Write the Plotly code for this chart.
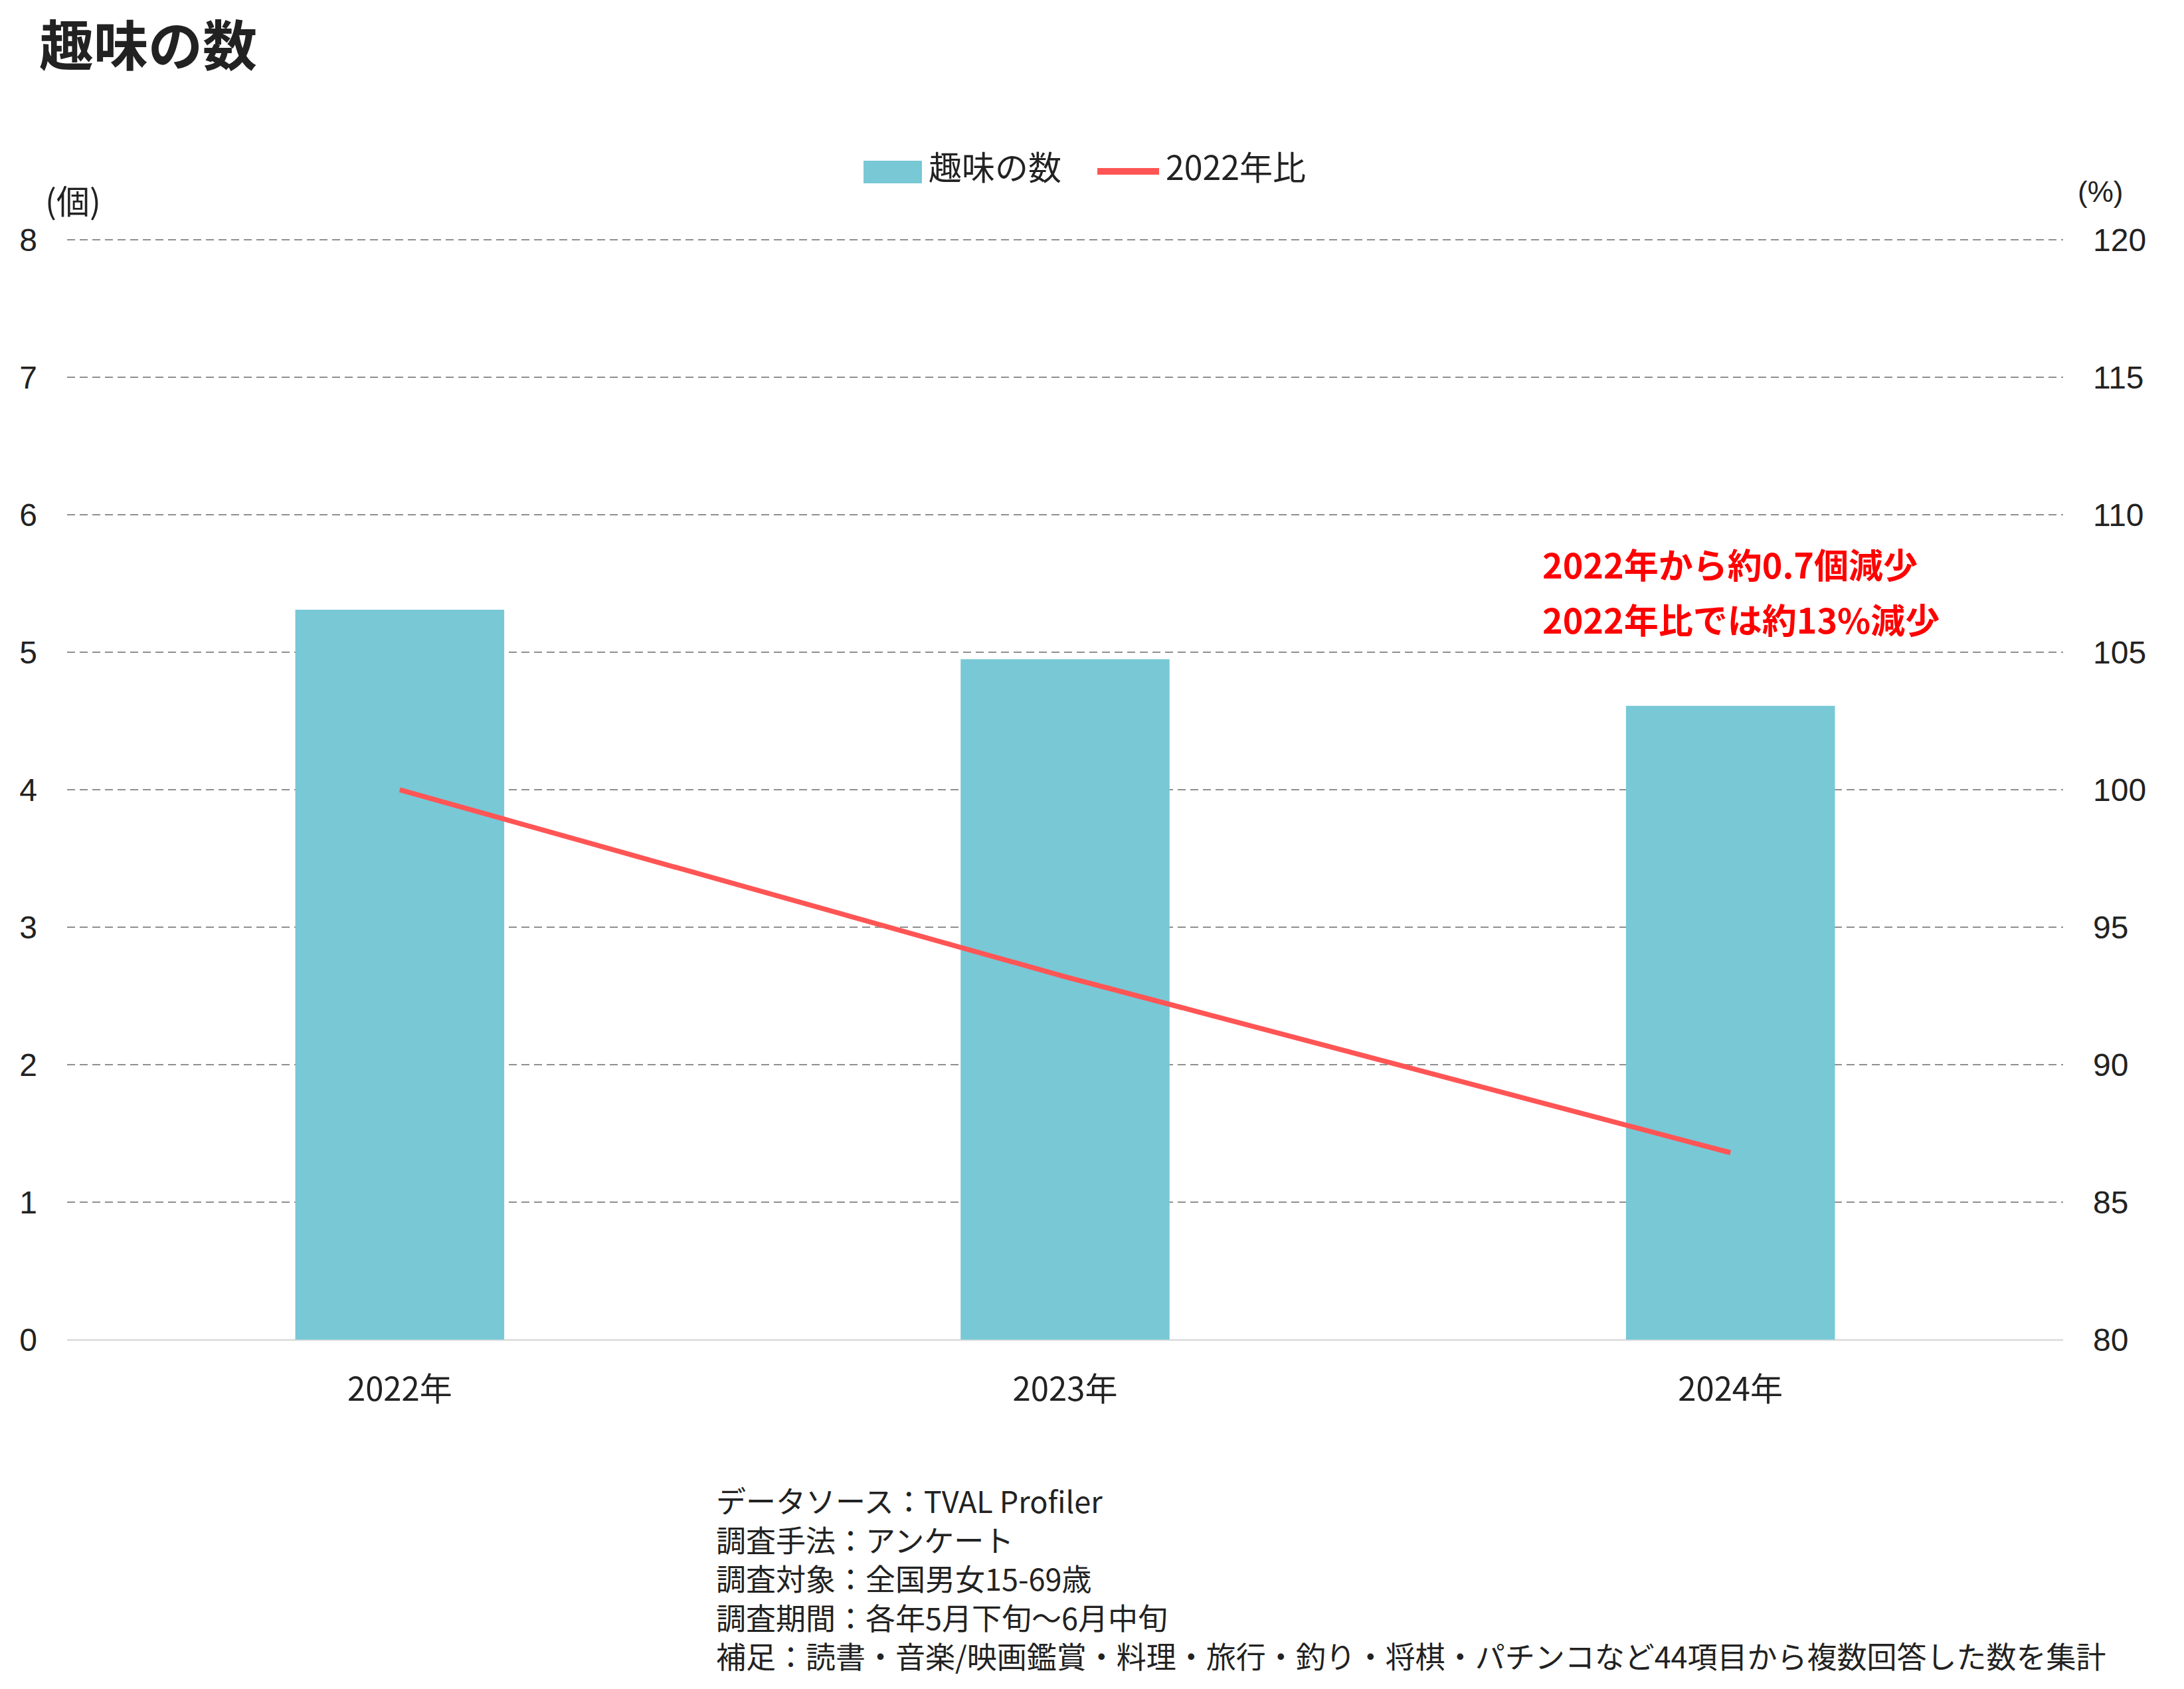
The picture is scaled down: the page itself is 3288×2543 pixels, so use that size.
import plotly.graph_objects as go

# ---- data ----
categories = ["2022年", "2023年", "2024年"]
hobby_counts = [5.31, 4.95, 4.61]          # 趣味の数 (個)
ratio_vs_2022 = [100.0, 93.2, 86.8]        # 2022年比 (%)
left_ticks = [0, 1, 2, 3, 4, 5, 6, 7, 8]
right_ticks = [80, 85, 90, 95, 100, 105, 110, 115, 120]
title_text = "趣味の数"
bar_name = "趣味の数"
line_name = "2022年比"
note_lines = ["2022年から約0.7個減少", "2022年比では約13%減少"]
footnote_lines = [
    "データソース：TVAL Profiler",
    "調査手法：アンケート",
    "調査対象：全国男女15-69歳",
    "調査期間：各年5月下旬～6月中旬",
    "補足：読書・音楽/映画鑑賞・料理・旅行・釣り・将棋・パチンコなど44項目から複数回答した数を集計",
]

BAR_COLOR = "#78C8D6"
LINE_COLOR = "#FF5555"

W, H = 3288, 2543
ML, MR, MT, MB = 101, 182, 357, 526
PW, PH = W - ML - MR, H - MT - MB

def px_x(x):
    return (x - ML) / PW

def px_y(y):
    return (H - MB - y) / PH

CJK = "Noto Sans CJK JP"
NUM = "Liberation Sans, Arial"
TXT = "#222222"

fig = go.Figure()
fig.add_trace(go.Bar(
    x=categories, y=hobby_counts, name=bar_name,
    marker=dict(color=BAR_COLOR, line=dict(width=0)),
    yaxis="y", showlegend=False,
))
fig.add_trace(go.Scatter(
    x=categories, y=ratio_vs_2022, name=line_name, mode="lines",
    line=dict(color=LINE_COLOR, width=7.5),
    yaxis="y2", showlegend=False,
))

annotations = []
shapes = []

# title
annotations.append(dict(text="<b>" + title_text + "</b>", x=px_x(57), y=px_y(64),
                        xref="paper", yref="paper", xanchor="left", yanchor="middle",
                        showarrow=False, font=dict(family=CJK, size=82, color=TXT)))

# legend (drawn to match the large swatches of the reference)
shapes.append(dict(type="rect", xref="paper", yref="paper",
                   x0=px_x(1300), x1=px_x(1388), y0=px_y(276), y1=px_y(242),
                   fillcolor=BAR_COLOR, line=dict(width=0)))
shapes.append(dict(type="line", xref="paper", yref="paper",
                   x0=px_x(1652), x1=px_x(1745), y0=px_y(258), y1=px_y(258),
                   line=dict(color=LINE_COLOR, width=10)))
annotations.append(dict(text=bar_name, x=px_x(1396), y=px_y(249), xref="paper", yref="paper",
                        xanchor="left", yanchor="middle", showarrow=False,
                        font=dict(family=CJK, size=50, color=TXT)))
annotations.append(dict(text=line_name, x=px_x(1753), y=px_y(249), xref="paper", yref="paper",
                        xanchor="left", yanchor="middle", showarrow=False,
                        font=dict(family=CJK, size=50, color=TXT)))

# unit labels
annotations.append(dict(text="(個)", x=px_x(110), y=px_y(300), xref="paper", yref="paper",
                        xanchor="center", yanchor="middle", showarrow=False,
                        font=dict(family=CJK, size=50, color=TXT)))
annotations.append(dict(text="(%)", x=px_x(3162), y=px_y(288), xref="paper", yref="paper",
                        xanchor="center", yanchor="middle", showarrow=False,
                        font=dict(family=NUM, size=44, color=TXT)))

# red note
for t, yc in zip(note_lines, [848, 931]):
    annotations.append(dict(text="<b>" + t + "</b>", x=px_x(2320), y=px_y(yc),
                            xref="paper", yref="paper", xanchor="left", yanchor="middle",
                            showarrow=False, font=dict(family=CJK, size=52, color="#FF0000")))

# footnote
annotations.append(dict(text="<br>".join(footnote_lines), x=px_x(1076), y=px_y(2375),
                        xref="paper", yref="paper", xanchor="left", yanchor="middle",
                        align="left", showarrow=False,
                        font=dict(family=CJK, size=45, color=TXT)))

fig.update_layout(
    width=W, height=H,
    margin=dict(l=ML, r=MR, t=MT, b=MB, pad=0),
    paper_bgcolor="white", plot_bgcolor="white",
    bargap=0.686,
    showlegend=False,
    xaxis=dict(
        type="category", range=[-0.5, 2.5], showgrid=False, showline=False, zeroline=False,
        ticks="", ticklabelstandoff=42,
        tickfont=dict(family=CJK, size=49, color=TXT),
    ),
    yaxis=dict(
        range=[0, 8.02], tickvals=left_ticks, showgrid=True, gridcolor="#8F8F8F", gridwidth=2,
        griddash="12px,7px", zeroline=True, zerolinecolor="#E0E0E0", zerolinewidth=3,
        showline=False, ticks="", ticklabelstandoff=44,
        tickfont=dict(family=NUM, size=48, color=TXT),
    ),
    yaxis2=dict(
        range=[80, 120.1], tickvals=right_ticks, overlaying="y", side="right",
        showgrid=False, zeroline=False, showline=False, ticks="", ticklabelstandoff=44,
        tickfont=dict(family=NUM, size=48, color=TXT),
    ),
    annotations=annotations,
    shapes=shapes,
)

fig.write_html("out.html")
